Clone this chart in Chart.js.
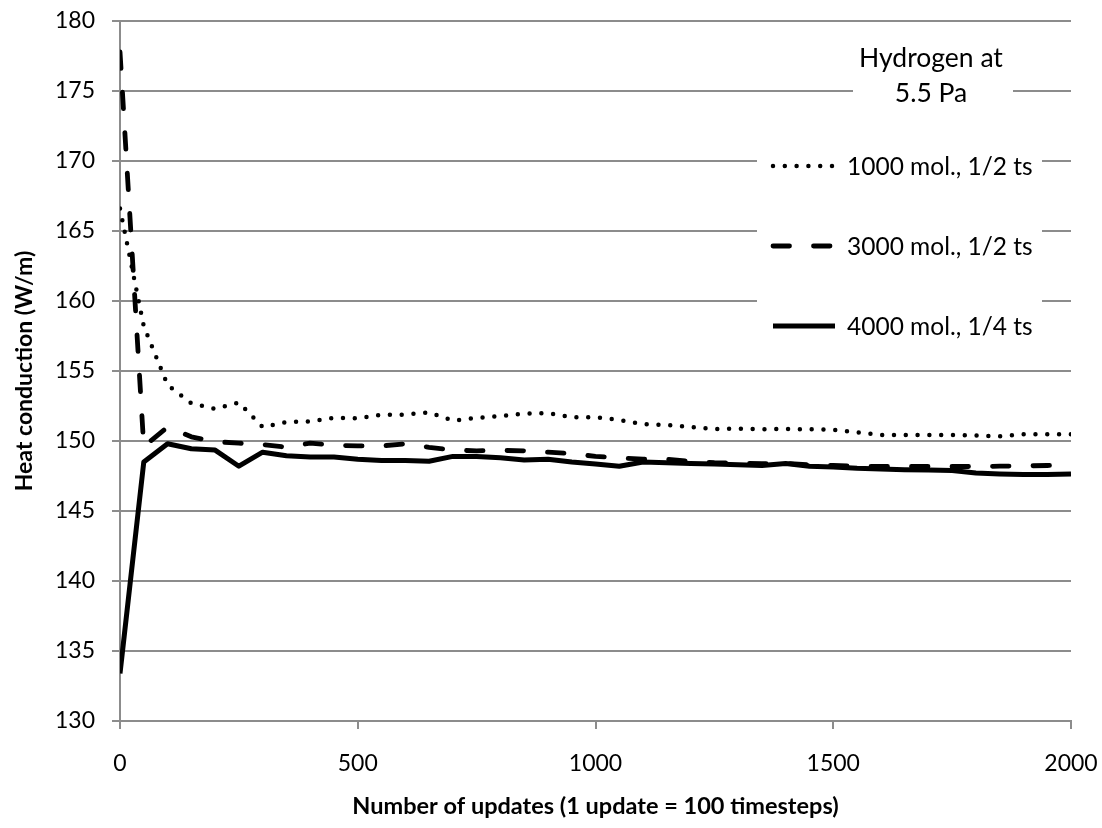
<!DOCTYPE html>
<html>
<head>
<meta charset="utf-8">
<title>Heat conduction vs. number of updates</title>
<script src="https://cdn.jsdelivr.net/npm/chart.js@4.4.0/dist/chart.umd.min.js"></script>
<style>
  html, body { margin: 0; padding: 0; background: #ffffff; }
  #wrap { width: 1102px; height: 828px; }
</style>
</head>
<body>
<div id="wrap"><canvas id="chart" width="1102" height="828"></canvas></div>
<script>
// Number of updates (1 update = 100 timesteps)
const updates = [
  0, 50, 100, 150, 200, 250, 300, 350, 400, 450,
  500, 550, 600, 650, 700, 750, 800, 850, 900, 950,
  1000, 1050, 1100, 1150, 1200, 1250, 1300, 1350, 1400, 1450,
  1500, 1550, 1600, 1650, 1700, 1750, 1800, 1850, 1900, 1950,
  2000
];

// Heat conduction (W/m) for each run
const mol1000Half = [
  166.6, 158.2, 154.0, 152.7, 152.3, 152.75, 151.0, 151.35, 151.4, 151.65,
  151.62, 151.88, 151.88, 152.05, 151.45, 151.65, 151.78, 151.95, 152.0, 151.7,
  151.7, 151.5, 151.2, 151.15, 151.0, 150.85, 150.88, 150.84, 150.86, 150.84,
  150.8, 150.62, 150.43, 150.43, 150.43, 150.43, 150.4, 150.33, 150.48, 150.48,
  150.48
];
const mol3000Half = [
  177.8, 149.6, 151.0, 150.3, 149.95, 149.85, 149.75, 149.55, 149.85, 149.7,
  149.65, 149.65, 149.8, 149.55, 149.35, 149.3, 149.33, 149.3, 149.2, 149.1,
  148.9, 148.8, 148.7, 148.7, 148.55, 148.45, 148.42, 148.38, 148.4, 148.3,
  148.25, 148.2, 148.18, 148.18, 148.18, 148.18, 148.18, 148.2, 148.22, 148.25,
  148.28
];
const mol4000Quarter = [
  133.4, 148.5, 149.8, 149.45, 149.35, 148.2, 149.2, 148.95, 148.85, 148.85,
  148.7, 148.6, 148.6, 148.55, 148.9, 148.9, 148.8, 148.65, 148.7, 148.5,
  148.35, 148.2, 148.5, 148.45, 148.4, 148.35, 148.3, 148.25, 148.4, 148.2,
  148.15, 148.05, 148.0, 147.95, 147.92, 147.9, 147.72, 147.65, 147.6, 147.6,
  147.65
];

const seriesLabels = ['1000 mol., 1/2 ts', '3000 mol., 1/2 ts', '4000 mol., 1/4 ts'];
const legendTitle = ['Hydrogen at', '5.5 Pa'];
const xAxisTitle = 'Number of updates (1 update = 100 timesteps)';
const yAxisTitle = 'Heat conduction (W/m)';

const FONT = 'Lato, "Open Sans", "DejaVu Sans", sans-serif';
const GRID = '#8c8c8c';
const INK = '#000000';

function points(values) {
  return updates.map((u, i) => ({ x: u, y: values[i] }));
}

// Legend drawn inside the plot, on a white patch over the gridlines
const insetLegend = {
  id: 'insetLegend',
  afterDatasetsDraw(chart) {
    const { ctx, chartArea } = chart;
    const r = chartArea.right;
    const t = chartArea.top;
    ctx.save();

    ctx.fillStyle = '#ffffff';
    ctx.fillRect(r - 218, t + 14, 160, 80);
    ctx.fillRect(r - 314, t + 112, 285, 216);

    ctx.fillStyle = INK;
    ctx.font = '26.5px ' + FONT;
    ctx.textAlign = 'center';
    ctx.textBaseline = 'alphabetic';
    ctx.fillText(legendTitle[0], r - 140, t + 45.5);
    ctx.fillText(legendTitle[1], r - 140, t + 81);

    ctx.font = '24.5px ' + FONT;
    ctx.textAlign = 'left';
    chart.data.datasets.forEach((ds, i) => {
      const cy = t + 145 + i * 80;
      ctx.save();
      ctx.strokeStyle = ds.borderColor;
      ctx.lineWidth = ds.borderWidth;
      ctx.lineCap = ds.borderCapStyle || 'butt';
      ctx.setLineDash(ds.borderDash || []);
      ctx.beginPath();
      ctx.moveTo(r - 298, cy);
      ctx.lineTo(r - 236, cy);
      ctx.stroke();
      ctx.restore();
      ctx.fillText(ds.label, r - 224, cy + 8.5);
    });

    ctx.restore();
  }
};

new Chart(document.getElementById('chart'), {
  type: 'line',
  data: {
    datasets: [
      {
        label: seriesLabels[0],
        data: points(mol1000Half),
        borderColor: INK,
        borderWidth: 4.5,
        borderDash: [0, 11.8],
        borderCapStyle: 'round',
        borderJoinStyle: 'round'
      },
      {
        label: seriesLabels[1],
        data: points(mol3000Half),
        borderColor: INK,
        borderWidth: 4.8,
        borderDash: [16.5, 24],
        borderCapStyle: 'round',
        borderJoinStyle: 'round'
      },
      {
        label: seriesLabels[2],
        data: points(mol4000Quarter),
        borderColor: INK,
        borderWidth: 5,
        borderCapStyle: 'butt',
        borderJoinStyle: 'round'
      }
    ]
  },
  options: {
    responsive: false,
    animation: false,
    layout: { padding: { top: 21, right: 31, bottom: 0, left: 0 } },
    elements: {
      point: { radius: 0, hoverRadius: 0 },
      line: { tension: 0, fill: false }
    },
    plugins: {
      legend: { display: false },
      tooltip: { enabled: false }
    },
    scales: {
      x: {
        type: 'linear',
        min: 0,
        max: 2000,
        ticks: {
          stepSize: 500,
          padding: 21,
          color: INK,
          font: { family: FONT, size: 23 },
          maxRotation: 0,
          callback: (value) => String(value)
        },
        grid: {
          drawOnChartArea: false,
          drawTicks: true,
          tickLength: 8,
          color: GRID,
          lineWidth: 2
        },
        border: { display: true, color: GRID, width: 2 },
        title: {
          display: true,
          text: xAxisTitle,
          color: INK,
          font: { family: FONT, size: 23.5, weight: 'bold' },
          padding: { top: 0, bottom: 7 }
        },
        afterFit(scale) {
          scale.height = 107;
          scale.paddingLeft = 0;
          scale.paddingRight = 0;
        }
      },
      y: {
        type: 'linear',
        min: 130,
        max: 180,
        ticks: {
          stepSize: 5,
          padding: 17,
          color: INK,
          font: { family: FONT, size: 23 }
        },
        grid: {
          drawTicks: true,
          tickLength: 8,
          color: GRID,
          lineWidth: 2
        },
        border: { display: true, color: GRID, width: 2 },
        title: {
          display: true,
          text: yAxisTitle,
          color: INK,
          font: { family: FONT, size: 23, weight: 'bold' },
          padding: { top: 11, bottom: 0 }
        },
        afterFit(scale) {
          scale.width = 120;
          scale.paddingTop = 0;
          scale.paddingBottom = 0;
        }
      }
    }
  },
  plugins: [insetLegend]
});
</script>
</body>
</html>
